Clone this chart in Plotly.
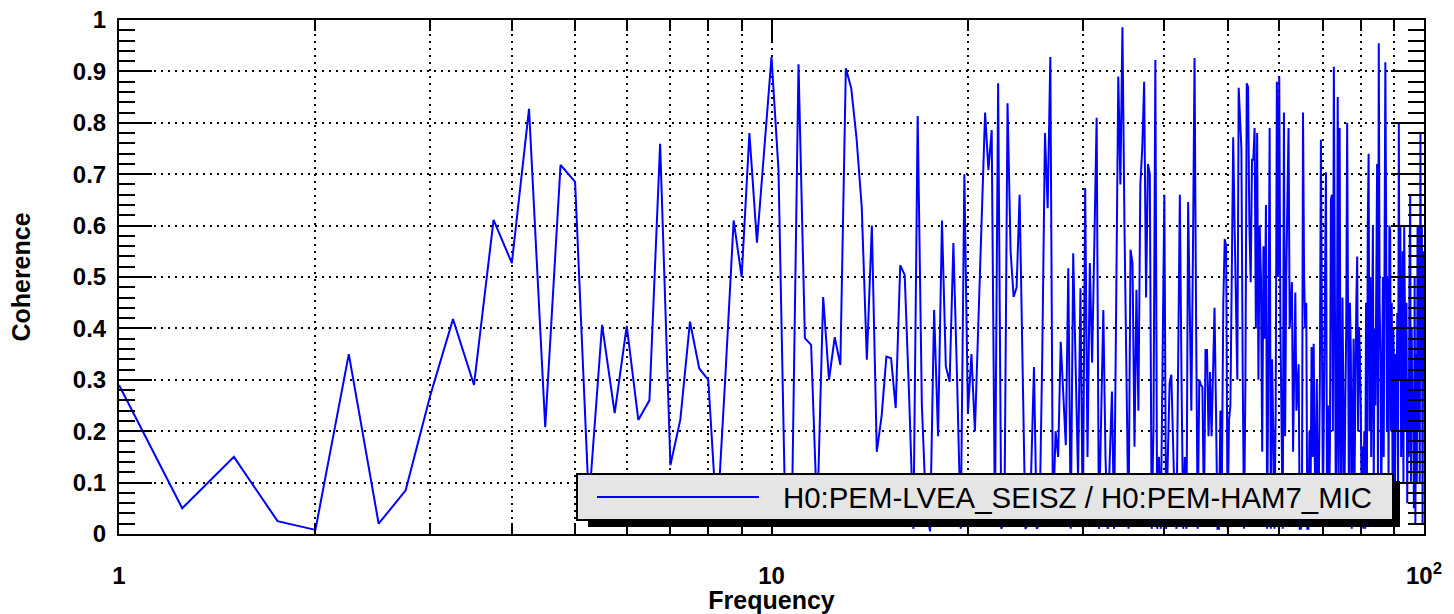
import plotly.graph_objects as go

# Coherence spectrum, 0.25 Hz bins starting at 1 Hz
freq_start = 1.0
freq_step = 0.25
coherence = [
    # 1.00 - 3.75
    0.29, 0.05, 0.15, 0.025, 0.008, 0.35, 0.02, 0.085, 0.27, 0.418, 0.29, 0.611,
    # 4.00 - 5.75
    0.527, 0.827, 0.208, 0.718, 0.685, 0.06, 0.407, 0.235,
    # 6.00 - 7.75
    0.405, 0.222, 0.26, 0.759, 0.134, 0.223, 0.413, 0.322,
    # 8.00 - 9.75
    0.30, 0.02, 0.31, 0.61, 0.50, 0.78, 0.567, 0.747,
    # 10.00 - 11.75
    0.928, 0.708, 0.03, 0.05, 0.914, 0.381, 0.368, 0.03,
    # 12.00 - 13.75
    0.461, 0.30, 0.383, 0.329, 0.906, 0.867, 0.77, 0.636,
    # 14.00 - 15.75
    0.339, 0.60, 0.16, 0.23, 0.345, 0.342, 0.245, 0.523,
    # 16.00 - 17.75
    0.504, 0.27, 0.01, 0.813, 0.25, 0.05, 0.005, 0.436,
    # 18.00 - 19.75
    0.19, 0.61, 0.326, 0.296, 0.566, 0.30, 0.01, 0.70,
    # 20.00 - 21.75
    0.235, 0.35, 0.20, 0.41, 0.61, 0.82, 0.708, 0.786,
    # 22.00 - 23.75
    0.02, 0.877, 0.01, 0.03, 0.838, 0.55, 0.461, 0.48,
    # 24.00 - 25.75
    0.66, 0.35, 0.01, 0.02, 0.12, 0.325, 0.01, 0.02,
    # 26.00 - 27.75
    0.35, 0.78, 0.634, 0.928, 0.02, 0.2, 0.15, 0.374,
    # 28.00 - 29.75
    0.27, 0.173, 0.517, 0.01, 0.546, 0.33, 0.11, 0.478,
    # 30.00 - 31.75
    0.01, 0.673, 0.15, 0.527, 0.333, 0.57, 0.81, 0.01,
    # 32.00 - 33.75
    0.2, 0.436, 0.15, 0.01, 0.15, 0.277, 0.01, 0.45,
    # 34.00 - 35.75
    0.89, 0.68, 0.986, 0.6, 0.25, 0.01, 0.553, 0.527,
    # 36.00 - 37.75
    0.17, 0.475, 0.24, 0.68, 0.75, 0.88, 0.46, 0.72,
    # 38.00 - 39.75
    0.70, 0.01, 0.21, 0.922, 0.01, 0.15, 0.01, 0.3,
    # 40.00 - 41.75
    0.66, 0.01, 0.15, 0.294, 0.31, 0.15, 0.05, 0.01,
    # 42.00 - 43.75
    0.3, 0.66, 0.3, 0.01, 0.15, 0.01, 0.646, 0.4,
    # 44.00 - 45.75
    0.24, 0.55, 0.926, 0.4, 0.01, 0.3, 0.29, 0.286,
    # 46.00 - 47.75
    0.03, 0.358, 0.358, 0.19, 0.315, 0.19, 0.3, 0.44,
    # 48.00 - 49.75
    0.24, 0.01, 0.01, 0.24, 0.1, 0.45, 0.574, 0.56,
    # 50.00 - 51.75
    0.01, 0.22, 0.25, 0.5, 0.772, 0.6, 0.45, 0.3,
    # 52.00 - 53.75
    0.868, 0.8, 0.75, 0.3, 0.01, 0.3, 0.877, 0.87,
    # 54.00 - 55.75
    0.6, 0.49, 0.728, 0.728, 0.79, 0.4, 0.78, 0.3,
    # 56.00 - 57.75
    0.6, 0.5, 0.16, 0.56, 0.38, 0.64, 0.01, 0.35,
    # 58.00 - 59.75
    0.79, 0.01, 0.34, 0.2, 0.01, 0.24, 0.88, 0.5,
    # 60.00 - 61.75
    0.89, 0.4, 0.24, 0.01, 0.82, 0.19, 0.5, 0.7,
    # 62.00 - 63.75
    0.79, 0.4, 0.45, 0.49, 0.16, 0.3, 0.47, 0.24,
    # 64.00 - 65.75
    0.3, 0.33, 0.01, 0.01, 0.02, 0.82, 0.5, 0.4,
    # 66.00 - 67.75
    0.45, 0.01, 0.01, 0.2, 0.05, 0.364, 0.15, 0.37,
    # 68.00 - 69.75
    0.15, 0.02, 0.3, 0.02, 0.1, 0.3, 0.767, 0.286,
    # 70.00 - 71.75
    0.05, 0.25, 0.5, 0.704, 0.1, 0.25, 0.02, 0.17,
    # 72.00 - 73.75
    0.65, 0.66, 0.2, 0.909, 0.5, 0.05, 0.2, 0.85,
    # 74.00 - 75.75
    0.1, 0.79, 0.22, 0.02, 0.46, 0.3, 0.05, 0.25,
    # 76.00 - 77.75
    0.4, 0.8, 0.2, 0.02, 0.45, 0.35, 0.01, 0.2,
    # 78.00 - 79.75
    0.38, 0.1, 0.35, 0.45, 0.54, 0.2, 0.4, 0.35,
    # 80.00 - 81.75
    0.25, 0.05, 0.17, 0.01, 0.2, 0.01, 0.45, 0.1,
    # 82.00 - 83.75
    0.6, 0.74, 0.2, 0.5, 0.15, 0.45, 0.6, 0.1,
    # 84.00 - 85.75
    0.4, 0.25, 0.5, 0.72, 0.1, 0.955, 0.45, 0.34,
    # 86.00 - 87.75
    0.05, 0.3, 0.5, 0.15, 0.75, 0.918, 0.6, 0.2,
    # 88.00 - 89.75
    0.5, 0.1, 0.6, 0.59, 0.2, 0.45, 0.1, 0.4,
    # 90.00 - 91.75
    0.28, 0.05, 0.35, 0.2, 0.43, 0.1, 0.8, 0.3,
    # 92.00 - 93.75
    0.6, 0.15, 0.24, 0.55, 0.1, 0.6, 0.42, 0.2,
    # 94.00 - 95.75
    0.45, 0.06, 0.3, 0.15, 0.5, 0.66, 0.1, 0.4,
    # 96.00 - 97.75
    0.2, 0.28, 0.05, 0.5, 0.02, 0.35, 0.1, 0.6,
    # 98.00 - 99.75
    0.2, 0.6, 0.1, 0.78, 0.3, 0.6, 0.02, 0.55,
    # 100.00
    0.45,
]
freq = [freq_start + freq_step * i for i in range(len(coherence))]

x_tickvals = [1, 10, 100]
x_ticktext = ["1", "10", "10<sup>2</sup>"]
x_minorvals = [2, 3, 4, 5, 6, 7, 8, 9, 20, 30, 40, 50, 60, 70, 80, 90]
legend_label = "H0:PEM-LVEA_SEISZ / H0:PEM-HAM7_MIC"

# plot area in pixels
W, H = 1454, 614
L, R, T, B = 119, 30, 20, 80
pw, ph = W - L - R, H - T - B


def px(x):
    return (x - L) / pw


def py(y):
    return (H - B - y) / ph


fig = go.Figure(go.Scatter(
    x=freq, y=coherence, mode="lines",
    line=dict(color="#0000ff", width=2),
    showlegend=False,
))

bold = dict(family="Liberation Sans", size=24, color="black", weight="bold")
dots = "2px,5px"

fig.update_xaxes(
    type="log", range=[0, 2], automargin=False,
    tickmode="array", tickvals=x_tickvals, ticktext=x_ticktext,
    ticks="inside", ticklen=22, tickwidth=2, tickcolor="black",
    showline=True, linecolor="black", linewidth=2, mirror="allticks",
    showgrid=True, gridcolor="black", gridwidth=2, griddash=dots,
    minor=dict(tickmode="array", tickvals=x_minorvals, ticks="inside",
               ticklen=11, tickwidth=2, tickcolor="black",
               showgrid=True, gridcolor="black", gridwidth=2, griddash=dots),
    tickfont=bold, ticklabelstandoff=19,
    title=dict(text="Frequency", font=dict(bold, size=25), standoff=7),
    zeroline=False,
)
fig.update_yaxes(
    range=[0, 1], tick0=0, dtick=0.1, automargin=False,
    ticks="inside", ticklen=33, tickwidth=2, tickcolor="black",
    showline=True, linecolor="black", linewidth=2, mirror="allticks",
    showgrid=True, gridcolor="black", gridwidth=2, griddash=dots,
    minor=dict(dtick=0.02, ticks="inside", ticklen=16, tickwidth=2,
               tickcolor="black", showgrid=False),
    tickfont=bold, ticklabelstandoff=6,
    title=dict(text="Coherence", font=dict(bold, size=25), standoff=35),
    zeroline=False,
)

# hand-drawn legend box with drop shadow
shapes = [
    dict(type="rect", xref="paper", yref="paper", layer="above",
         x0=px(588), x1=px(1400), y0=py(481), y1=py(527),
         fillcolor="black", line=dict(width=0)),
    dict(type="rect", xref="paper", yref="paper", layer="above",
         x0=px(577), x1=px(1393), y0=py(474), y1=py(520),
         fillcolor="#e5e5e5", line=dict(color="black", width=2)),
    dict(type="line", xref="paper", yref="paper", layer="above",
         x0=px(597), x1=px(759), y0=py(497), y1=py(497),
         line=dict(color="#0000ff", width=2)),
]
fig.update_layout(
    width=W, height=H, autosize=False,
    margin=dict(l=L, r=R, t=T, b=B),
    paper_bgcolor="white", plot_bgcolor="white",
    shapes=shapes,
    annotations=[dict(
        text=legend_label, xref="paper", yref="paper",
        x=px(781), y=py(497), xanchor="left", yanchor="middle",
        showarrow=False,
        font=dict(family="Liberation Sans", size=29.4, color="black"),
    )],
)

# the page itself should not add a margin around the figure
fig.write_html("out.html", config={"displayModeBar": False},
               post_script="document.body.style.margin='0';")
